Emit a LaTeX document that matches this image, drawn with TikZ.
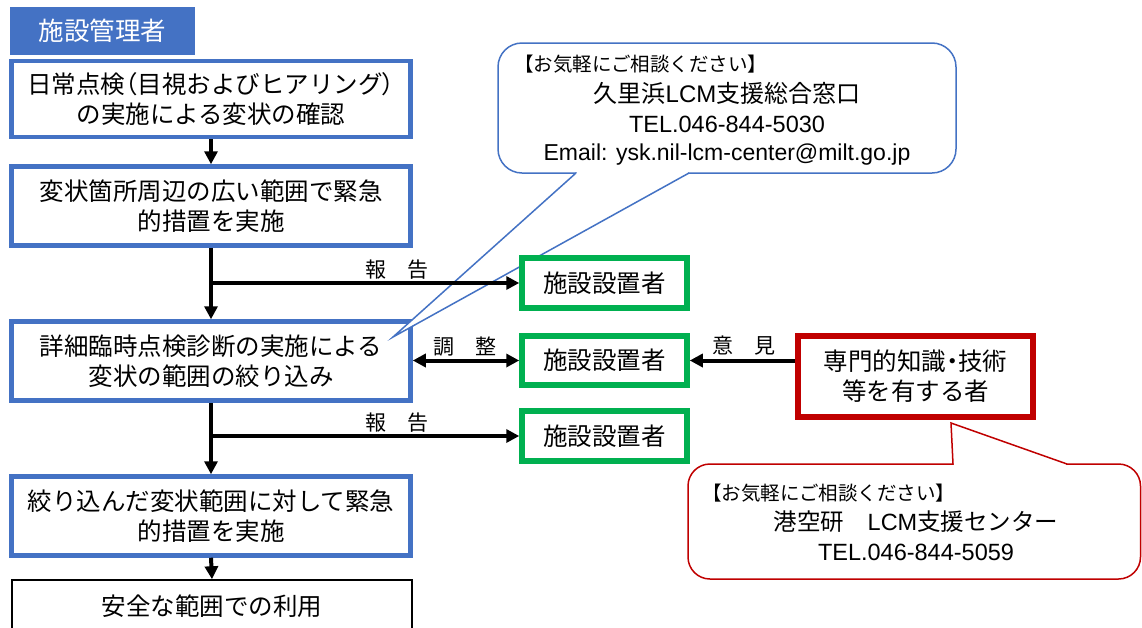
\documentclass[tikz,border=0pt]{standalone}
\usepackage{fontspec}
\setmainfont{Noto Sans CJK JP}
\newfontfamily\lat{Liberation Sans}
\newfontfamily\jpp{Noto Sans CJK JP}[RawFeature=+palt]
\usetikzlibrary{arrows.meta}
\definecolor{bl}{HTML}{4472C4}
\definecolor{gr}{HTML}{00B050}
\definecolor{rd}{HTML}{C00000}
\begin{document}
\begin{tikzpicture}[x=1pt,y=-1pt,
  bbox/.style={draw=bl, line width=4.5pt, fill=white, minimum width=399pt, align=center, inner sep=0pt, font=\fontsize{24.5}{30}\selectfont},
  gbox/.style={draw=gr, line width=5.5pt, fill=white, minimum width=165pt, inner sep=0pt, font=\fontsize{24.5}{30}\selectfont},
  lab/.style={inner sep=0pt, font=\fontsize{21}{24}\selectfont},
  arr/.style={line width=4pt, -{Triangle[length=13pt,width=13pt]}},
  darr/.style={line width=4pt, {Triangle[length=13pt,width=13pt]}-{Triangle[length=13pt,width=13pt]}},
  callb/.style={draw=bl, line width=1.5pt, fill=white},
  callr/.style={draw=rd, line width=1.5pt, fill=white},
  small/.style={inner sep=0pt, anchor=west, font=\fontsize{19.5}{22}\selectfont},
  big/.style={inner sep=0pt, font=\fontsize{24}{28}\selectfont},
  tel/.style={inner sep=0pt, font=\lat\fontsize{23.5}{26}\selectfont}
]
\useasboundingbox (0,0) rectangle (1142,627);
\clip (0,0) rectangle (1142,627);
\fill[white] (0,0) rectangle (1142,627);

% header tab
\node[fill=bl, minimum width=185pt, minimum height=48pt, inner sep=0pt, text=white, font=\fontsize{25.5}{28}\selectfont] (hd) at (102.5,31) {施設管理者};

% main flow boxes
\node[bbox, minimum height=76pt] (b1) at (211,99) {日常点検{\jpp （}目視およびヒアリング{\jpp ）}\\の実施による変状の確認};
\node[bbox, minimum height=79pt] (b2) at (211,206) {変状箇所周辺の広い範囲で緊急\\的措置を実施};
\node[bbox, minimum height=79pt] (b3) at (211,361) {詳細臨時点検診断の実施による\\変状の範囲の絞り込み};
\node[bbox, minimum height=79pt] (b4) at (211,516) {絞り込んだ変状範囲に対して緊急\\的措置を実施};
\node[draw=black, line width=1.5pt, fill=white, minimum width=400pt, minimum height=52pt, inner sep=0pt, font=\fontsize{24.5}{30}\selectfont] (b5) at (212,606) {安全な範囲での利用};

% callout 1 (blue)
\draw[callb, rounded corners=24pt] (498,43) rectangle (956,173);
\fill[white] (576,173) -- (393,337) -- (689,173) -- cycle;
\fill[white] (577,171) rectangle (688,175);
\draw[bl, line width=1.5pt, line join=miter] (576,173) -- (393,337) -- (689,173);
\node[small] (c1a) at (514,64) {【お気軽にご相談ください】};
\node[big] (c1b) at (727,93) {久里浜{\lat LCM}支援総合窓口};
\node[tel] (c1c) at (727,124) {TEL.046-844-5030};
\node[tel, font=\lat\fontsize{23}{26}\selectfont] (c1d) at (727,155) {Email: ysk.nil-lcm-center@milt.go.jp};

% callout 2 (red)
\draw[callr, rounded corners=22pt] (688,464) rectangle (1140.5,579);
\fill[white] (953,464) -- (951,423) -- (1067,464) -- cycle;
\fill[white] (954,462) rectangle (1066,466);
\draw[rd, line width=1.5pt, line join=miter] (953,464) -- (951,423) -- (1067,464);
\node[small] (c2a) at (702,493) {【お気軽にご相談ください】};
\node[big, font=\fontsize{23.5}{28}\selectfont] (c2b) at (916,522) {港空研　{\lat LCM}支援センター};
\node[tel] (c2c) at (916,552) {TEL.046-844-5059};

% green boxes
\node[gbox, minimum height=50pt] (g1) at (604.5,283) {施設設置者};
\node[gbox, minimum height=49pt] (g2) at (604.5,360.5) {施設設置者};
\node[gbox, minimum height=50pt] (g3) at (604.5,436) {施設設置者};

% expert box
\node[draw=rd, line width=6pt, fill=white, minimum width=235pt, minimum height=81pt, inner sep=0pt, align=center, font=\fontsize{24.5}{30}\selectfont] (ex) at (915.5,376.5) {専門的知識{\jpp ・}技術\\等を有する者};

% labels
\node[lab] (l1) at (397,270) {報　告};
\node[lab] (l2) at (465,347) {調　整};
\node[lab] (l3) at (744,346) {意　見};
\node[lab] (l4) at (397,423) {報　告};

% connectors
\draw[arr] (b1.south) -- (b2.north);
\draw[arr] (b2.south) -- (b3.north);
\draw[arr] (b2.south |- g1.west) -- (g1.west);
\draw[darr] (b3.east |- g2.west) -- (g2.west);
\draw[arr] (ex.west |- g2.east) -- (g2.east);
\draw[arr] (b3.south) -- (b4.north);
\draw[arr] (b3.south |- g3.west) -- (g3.west);
\draw[arr] (b4.south) -- (b5.north);
\end{tikzpicture}
\end{document}
